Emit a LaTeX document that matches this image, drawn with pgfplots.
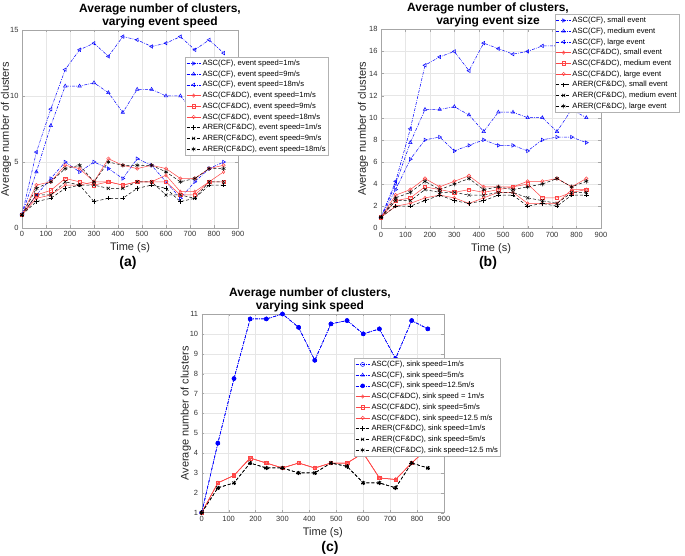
\documentclass[border=0pt]{standalone}
\usepackage{pgfplots}
\pgfplotsset{compat=1.18}
\usepackage{pgfplotstable}
\usepackage{fontspec}
\setmainfont{Liberation Sans}

% columns: t, blue (3), red (3), black (3)
\pgfplotstableread{
t   b1    b2    b3    r1   r2   r3   k1   k2   k3
0   1     1     1     1    1    1    1    1    1
60  2.5   4.25  5.75  2.25 2.5  3.25 2    2.5  3
120 3.75  7.75  9     2.5  2.85 3.5  2.25 2.5  3.5
180 5     10.75 12    3.25 3.75 4.75 3    3.5  4.5
240 4.25  10.75 13.5  3.25 3.5  4.5  3.25 3.25 4.75
300 5     11    14    3.5  3.25 3.5  2    3.25 3.5
360 4.5   10.25 13    3.5  3.5  5.25 2.25 3    5
420 3.75  8.75  14.5  3.25 3.25 4.75 2.25 3    4.75
480 5.25  10.5  14.25 3.5  3.5  4.5  3    3.5  4.75
540 4.75  10.5  13.75 3.5  3.5  4.75 3.25 3.5  4.75
600 3.5   10    14    4    3.5  4.5  3    2.5  4.25
660 2.25  10    14.5  2.75 2.5  3.75 2    2.5  3.5
720 3.5   8.75  13.5  2.75 2.5  3.75 2.25 2.25 3.75
780 4.5   10.75 14.25 3.5  3.5  4.5  3.25 3.5  4.5
840 5     10    13.25 4.25 3.5  4.75 3.25 3.5  4.5
}\tabA

\pgfplotstableread{
t   b1    b2    b3    r1   r2   r3   k1   k2   k3
0   1     1     1     1    1    1    1    1    1
60  3.5   4     4.25  2    2.5  3    2    2.5  2.75
120 6.25  7.75  9     2.25 2.75 3.5  2    2.5  3.25
180 8     10.75 14.75 2.75 3.75 4.5  2.5  3.5  4.25
240 8.25  10.75 15.5  3    3.5  3.75 3    3.25 3.5
300 7     11    16    2.75 3.25 4.25 2.5  3.25 4
360 7.5   10.25 14.25 2.25 3.5  4.75 2.25 3    4.5
420 8     8.75  16.75 2.75 3.25 3.75 2.5  3    3.5
480 7.5   10.5  16.25 3.25 3.5  3.75 3    3.25 3.75
540 7.5   10.5  15.75 3.25 3.75 3.75 3    3.25 3.5
600 7     10    16    2.25 4    4.25 2    2.75 3.75
660 8     10    16.5  2.25 2.75 4.25 2.25 2.5  4
720 8.25  8.75  16.5  2.25 2.75 4.5  2    2.25 4.5
780 8.25  10.75 17    3.5  3.25 3.75 3    3.25 3.75
840 7.75  10    16.5  3.5  3.5  4.5  3    3.25 4.25
}\tabB

\pgfplotstableread{
t   b     r     k
0   1     1     1
60  4.5   2.5   2.25
120 7.75  2.875 2.5
180 10.75 3.75  3.5
240 10.75 3.5   3.25
300 11    3.25  3.25
360 10.33 3.5   3
420 8.67  3.25  3
480 10.5  3.5   3.5
540 10.67 3.5   3.33
600 10    4     2.5
660 10.25 2.75  2.5
720 8.75  2.67  2.25
780 10.67 3.5   3.5
840 10.25 4.25  3.25
}\tabC

\definecolor{mred}{RGB}{255,70,70}
\definecolor{mgrid}{RGB}{230,230,230}

\pgfplotsset{
  matfig/.style={
    scale only axis, anchor=south west,
    xmin=0, xmax=900, xtick={0,100,...,900},
    grid=major, grid style={mgrid, line width=0.4pt},
    axis line style={gray!70}, tick style={gray!70},
    tick align=inside, major tick length=2.5pt,
    ticklabel style={font=\fontsize{7.5}{9}\selectfont, text=black!80},
    /pgf/number format/assume math mode=true,
    xlabel={Time (s)}, ylabel={Average number of clusters},
    label style={font=\fontsize{11}{12}\selectfont, text=black!85},
    legend cell align=left,
    legend style={font=\fontsize{7.6}{9}\selectfont, draw=gray!60, fill=white,
      anchor=north west, inner xsep=1pt, inner ysep=1pt,
      nodes={text height=6.2pt, text depth=2pt, inner ysep=1.25pt, inner xsep=1.5pt}},
    legend image code/.code={
      \draw[mark repeat=2,mark phase=2] plot coordinates {(0cm,0cm) (0.25cm,0cm) (0.5cm,0cm)};},
  },
  bl/.style={blue, dash pattern=on 3pt off 1.2pt on 0.8pt off 1.2pt, line width=0.5pt, mark size=2pt},
  rd/.style={mred, solid, line width=0.5pt, mark size=1.7pt},
  bk/.style={black, dash pattern=on 3pt off 2pt, line width=0.5pt, mark size=2.2pt},
}

\begin{document}
\begin{tikzpicture}
\path (0,0) rectangle (685pt,556pt);

% (a)
\begin{axis}[matfig, at={(22pt,328pt)}, width=216pt, height=198pt,
  ymin=0, ymax=15, ytick={0,5,10,15},
  xlabel style={at={(axis description cs:0.5,-0.1)}, anchor=center},
  ylabel style={at={(axis description cs:-0.074,0.5)}, anchor=center},
  legend style={at={(0.755,0.864)}}]
\addplot[bl, mark=triangle, mark options={solid, rotate=-90}] table[x=t,y=b1] {\tabA};
\addplot[bl, mark=triangle, mark options={solid}] table[x=t,y=b2] {\tabA};
\addplot[bl, mark=triangle, mark options={solid, rotate=90}] table[x=t,y=b3] {\tabA};
\addplot[rd, mark=diamond] table[x=t,y=r1] {\tabA};
\addplot[rd, mark=square] table[x=t,y=r2] {\tabA};
\addplot[rd, mark=o] table[x=t,y=r3] {\tabA};
\addplot[bk, mark=+, mark options={solid}] table[x=t,y=k1] {\tabA};
\addplot[bk, mark=x, mark options={solid}] table[x=t,y=k2] {\tabA};
\addplot[bk, mark=asterisk, mark options={solid}] table[x=t,y=k3] {\tabA};
\legend{{ASC(CF), event speed=1m/s}, {ASC(CF), event speed=9m/s}, {ASC(CF), event speed=18m/s},
  {ASC(CF\&DC), event speed=1m/s}, {ASC(CF\&DC), event speed=9m/s}, {ASC(CF\&DC), event speed=18m/s},
  {ARER(CF\&DC), event speed=1m/s}, {ARER(CF\&DC), event speed=9m/s}, {ARER(CF\&DC), event speed=18m/s}}
\end{axis}

% (b)
\begin{axis}[matfig, at={(381pt,327.7pt)}, width=220pt, height=199pt,
  ymin=0, ymax=18, ytick={0,2,...,18},
  xlabel style={at={(axis description cs:0.5,-0.1)}, anchor=center},
  ylabel style={at={(axis description cs:-0.082,0.5)}, anchor=center},
  legend style={at={(0.791,1.077)}}]
\addplot[bl, mark=triangle, mark options={solid, rotate=-90}] table[x=t,y=b1] {\tabB};
\addplot[bl, mark=triangle, mark options={solid}] table[x=t,y=b2] {\tabB};
\addplot[bl, mark=triangle, mark options={solid, rotate=90}] table[x=t,y=b3] {\tabB};
\addplot[rd, mark=diamond] table[x=t,y=r1] {\tabB};
\addplot[rd, mark=square] table[x=t,y=r2] {\tabB};
\addplot[rd, mark=o] table[x=t,y=r3] {\tabB};
\addplot[bk, mark=+, mark options={solid}] table[x=t,y=k1] {\tabB};
\addplot[bk, mark=x, mark options={solid}] table[x=t,y=k2] {\tabB};
\addplot[bk, mark=asterisk, mark options={solid}] table[x=t,y=k3] {\tabB};
\legend{{ASC(CF), small event}, {ASC(CF), medium event}, {ASC(CF), large event},
  {ASC(CF\&DC), small event}, {ASC(CF\&DC), medium event}, {ASC(CF\&DC), large event},
  {ARER(CF\&DC), small event}, {ARER(CF\&DC), medium event}, {ARER(CF\&DC), large event}}
\end{axis}

% (c)
\begin{axis}[matfig, at={(201.7pt,43.3pt)}, width=242.3pt, height=198.7pt,
  ymin=1, ymax=11, ytick={1,2,...,11},
  xlabel style={at={(axis description cs:0.5,-0.1)}, anchor=center},
  ylabel style={at={(axis description cs:-0.066,0.5)}, anchor=center},
  legend style={at={(0.629,0.779)}}]
\addplot[bl, mark=o, mark options={solid}] table[x=t,y=b] {\tabC};
\addplot[bl, mark=triangle, mark options={solid}] table[x=t,y=b] {\tabC};
\addplot[bl, mark=*, mark options={solid}] table[x=t,y=b] {\tabC};
\addplot[rd, mark=diamond] table[x=t,y=r] {\tabC};
\addplot[rd, mark=square] table[x=t,y=r] {\tabC};
\addplot[rd, mark=o] table[x=t,y=r] {\tabC};
\addplot[bk, mark=+, mark options={solid}] table[x=t,y=k] {\tabC};
\addplot[bk, mark=x, mark options={solid}] table[x=t,y=k] {\tabC};
\addplot[bk, mark=asterisk, mark options={solid}] table[x=t,y=k] {\tabC};
\legend{{ASC(CF), sink speed=1m/s}, {ASC(CF), sink speed=5m/s}, {ASC(CF), sink speed=12.5m/s},
  {ASC(CF\&DC), sink speed = 1m/s}, {ASC(CF\&DC), sink speed=5m/s}, {ASC(CF\&DC), sink speed=12.5 m/s},
  {ARER(CF\&DC), sink speed=1m/s}, {ARER(CF\&DC), sink speed=5m/s}, {ARER(CF\&DC), sink speed=12.5 m/s}}
\end{axis}

% titles and panel labels
\begin{scope}[every node/.style={align=center, font=\bfseries\fontsize{12}{13.5}\selectfont}]
\node at (160pt,540pt) {Average number of clusters,\\varying event speed};
\node at (488pt,541pt) {Average number of clusters,\\varying event size};
\node at (310pt,256pt) {Average number of clusters,\\varying sink speed};
\end{scope}
\begin{scope}[every node/.style={font=\bfseries\fontsize{14}{16}\selectfont}]
\node at (128pt,293pt) {(a)};
\node at (488pt,293pt) {(b)};
\node at (330pt,8pt) {(c)};
\end{scope}

\pgfresetboundingbox
\path[use as bounding box] (0,0) rectangle (685pt,556pt);
\end{tikzpicture}
\end{document}
